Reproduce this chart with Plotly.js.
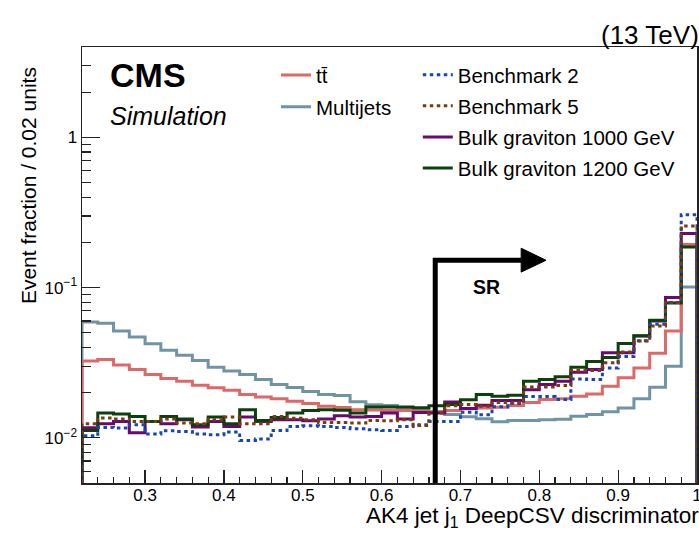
<!DOCTYPE html>
<html>
<head>
<meta charset="utf-8">
<script src="https://cdn.plot.ly/plotly-3.0.1.min.js"></script>
<style>
  html, body { margin: 0; padding: 0; background: #ffffff; }
  #plot { width: 699px; height: 533px; }
</style>
</head>
<body>
<div id="plot"></div>
<script>
// Binning of the AK4 jet j1 DeepCSV discriminator (0.02 units per bin)
const binLow = 0.22;
const binWidth = 0.02;
const nBins = 39;

// Normalised event fractions per bin
const ttbar = [0.0324, 0.0332, 0.0305, 0.0285, 0.0264, 0.0248, 0.0238, 0.0224, 0.0215, 0.0207, 0.0194, 0.0187, 0.0182,
  0.0175, 0.0169, 0.0162, 0.0159, 0.0154, 0.0153, 0.0152, 0.0152, 0.0150, 0.0149, 0.0152,
  0.0156, 0.0158, 0.0160, 0.0164, 0.0172, 0.0180, 0.0182, 0.0189, 0.0196, 0.0220, 0.0251, 0.0292, 0.0365, 0.0514, 0.194];

const multijets = [0.0590, 0.0579, 0.0514, 0.0469, 0.0423, 0.0382, 0.0354, 0.0327, 0.0295, 0.0278, 0.0264, 0.0244, 0.0226,
  0.0216, 0.0203, 0.0194, 0.0191, 0.0174, 0.0166, 0.0164, 0.0159, 0.0154, 0.0149, 0.0143,
  0.0138, 0.0134, 0.0128, 0.01305, 0.01305, 0.0132, 0.0133, 0.0139, 0.0143, 0.0149, 0.0158, 0.0182, 0.0217, 0.0300, 0.1008];

const benchmark2 = [0.01031, 0.01172, 0.01161, 0.01222, 0.01059, 0.01114, 0.01102, 0.01059, 0.01047, 0.01092, 0.00959, 0.00980, 0.01119,
  0.01190, 0.01203, 0.01190, 0.01172, 0.01149, 0.01131, 0.01119, 0.01190, 0.01222, 0.01285, 0.01285,
  0.0148, 0.01425, 0.0161, 0.0169, 0.0188, 0.0188, 0.0180, 0.0246, 0.0244, 0.0292, 0.0348, 0.0442, 0.0570, 0.0796, 0.306];

const benchmark5 = [0.01241, 0.01354, 0.01334, 0.01285, 0.01285, 0.01334, 0.01254, 0.01241, 0.01319, 0.01375, 0.01241, 0.01241, 0.01388,
  0.01350, 0.01319, 0.01266, 0.01266, 0.01254, 0.01305, 0.01299, 0.01319, 0.01209, 0.01463, 0.01637,
  0.01663, 0.01624, 0.01715, 0.01715, 0.0218, 0.0218, 0.0223, 0.0281, 0.0281, 0.0316, 0.0373, 0.0441, 0.0555, 0.0796, 0.257];

const bulk1000 = [0.01166, 0.01241, 0.01285, 0.01080, 0.01285, 0.01241, 0.01319, 0.01179, 0.01285, 0.01190, 0.01375, 0.01285, 0.01319,
  0.01319, 0.01299, 0.01334, 0.01403, 0.01375, 0.01388, 0.01463, 0.01334, 0.01476, 0.01463, 0.01733,
  0.01564, 0.0165, 0.0177, 0.0177, 0.0209, 0.0226, 0.0238, 0.0273, 0.0285, 0.0369, 0.0369, 0.0476, 0.0600, 0.0860, 0.229];

const bulk1200 = [0.01119, 0.01463, 0.01440, 0.01388, 0.01285, 0.01388, 0.01334, 0.01222, 0.01375, 0.01241, 0.01539, 0.01305, 0.01367,
  0.01463, 0.01522, 0.01539, 0.01527, 0.01463, 0.01604, 0.01604, 0.01604, 0.01587, 0.01637, 0.01663,
  0.01795, 0.0194, 0.0189, 0.0192, 0.0238, 0.0244, 0.0255, 0.0295, 0.0322, 0.0343, 0.0424, 0.0478, 0.0606, 0.0791, 0.1865];

// Axis tick labels
const xTickVals = [0.3, 0.4, 0.5, 0.6, 0.7, 0.8, 0.9, 1.0];
const xTickText = ['0.3', '0.4', '0.5', '0.6', '0.7', '0.8', '0.9', '1'];
const yTickVals = [0.01, 0.1, 1];
const yTickText = ['10<sup>\u22122</sup>', '10<sup>\u22121</sup>', '1'];

// Signal-region selection on the discriminator
const srCut = 0.668;

// Axis ranges
const xRange = [0.22, 1.0];
const yMin = 0.005, yMax = 4;

const FONT = 'Liberation Sans, Arial, Helvetica, sans-serif';
const AXC = '#222222';

// Histogram outline drawn as a step line: rises from below the frame at the
// first edge, follows each bin, and drops again at the last edge.
function histTrace(name, vals, color, dash, legend, rank) {
  const floor = yMin / 5;
  const x = [binLow], y = [floor];
  for (let i = 0; i < nBins; i++) {
    x.push(binLow + i * binWidth);
    y.push(vals[i]);
  }
  x.push(binLow + nBins * binWidth); y.push(vals[nBins - 1]);
  x.push(binLow + nBins * binWidth); y.push(floor);
  return {
    type: 'scatter', mode: 'lines', name: name, x: x, y: y,
    line: { shape: 'hv', color: color, width: 3, dash: dash },
    legend: legend, legendrank: rank, legendgroup: name,
    hoverinfo: 'skip'
  };
}

const traces = [
  histTrace('Multijets', multijets, '#7093a6', 'solid', 'legend', 2),
  histTrace('tt\u0304', ttbar, '#dc6868', 'solid', 'legend', 1),
  histTrace('Bulk graviton 1000 GeV', bulk1000, '#6a0a6e', 'solid', 'legend2', 5),
  histTrace('Bulk graviton 1200 GeV', bulk1200, '#0c410e', 'solid', 'legend2', 6),
  histTrace('Benchmark 2', benchmark2, '#1647b3', '3.5px,3.5px', 'legend2', 3),
  histTrace('Benchmark 5', benchmark5, '#7a3d10', '3.5px,3.5px', 'legend2', 4)
];

// Minor tick positions on the logarithmic axis
const yMinor = [];
[0.001, 0.01, 0.1, 1].forEach(d => {
  for (let k = 2; k <= 9; k++) {
    const v = k * d;
    if (v > yMin && v < yMax) yMinor.push(v);
  }
});

const srTop = 0.152;
const arrowEnd = 0.777, arrowTip = 0.8085;

const legendFont = { family: FONT, size: 20.5, color: '#000000' };

const layout = {
  width: 699, height: 533,
  margin: { l: 82, r: 2, t: 47, b: 50, pad: 0 },
  paper_bgcolor: '#ffffff', plot_bgcolor: '#ffffff',
  font: { family: FONT, color: '#000000' },
  showlegend: true,
  legend: {
    x: 0.3154, y: 0.981, xanchor: 'left', yanchor: 'top',
    bgcolor: 'rgba(0,0,0,0)', borderwidth: 0, font: legendFont,
    traceorder: 'grouped', tracegroupgap: 2, itemwidth: 30
  },
  legend2: {
    x: 0.546, y: 0.982, xanchor: 'left', yanchor: 'top',
    bgcolor: 'rgba(0,0,0,0)', borderwidth: 0, font: legendFont,
    traceorder: 'grouped', tracegroupgap: 1.5, itemwidth: 30
  },
  xaxis: {
    range: xRange, showgrid: false, zeroline: false,
    showline: true, linecolor: AXC, linewidth: 1.5, mirror: true,
    ticks: 'inside', ticklen: 13, tickwidth: 1.2, tickcolor: AXC,
    tickmode: 'array', tickvals: xTickVals, ticktext: xTickText,
    ticklabeloverflow: 'allow', ticklabelstandoff: -4,
    minor: { ticks: 'inside', ticklen: 6.5, tickwidth: 1.2, tickcolor: AXC, tick0: 0, dtick: 0.02 },
    tickfont: { family: FONT, size: 17, color: '#000000' }
  },
  yaxis: {
    type: 'log', range: [Math.log10(yMin), Math.log10(yMax)],
    showgrid: false, zeroline: false,
    showline: true, linecolor: AXC, linewidth: 1.5, mirror: true,
    ticks: 'inside', ticklen: 18, tickwidth: 1.2, tickcolor: AXC,
    tickmode: 'array', tickvals: yTickVals, ticktext: yTickText,
    minor: { ticks: 'inside', ticklen: 9, tickwidth: 1.2, tickcolor: AXC, tickmode: 'array', tickvals: yMinor },
    tickfont: { family: FONT, size: 17, color: '#000000' }
  },
  shapes: [
    // signal-region boundary with arrow
    { type: 'path', xref: 'x', yref: 'y',
      path: `M ${srCut},${yMin} L ${srCut},${srTop} L ${arrowEnd},${srTop}`,
      line: { color: '#000000', width: 5 }, fillcolor: 'rgba(0,0,0,0)' },
    { type: 'path', xref: 'x', yref: 'y',
      path: `M ${arrowEnd},0.183 L ${arrowTip},${srTop} L ${arrowEnd},0.1268 Z`,
      line: { color: '#000000', width: 1 }, fillcolor: '#000000' }
  ],
  annotations: [
    { text: '<b>CMS</b>', xref: 'paper', yref: 'paper', x: 0.042, y: 0.935,
      xanchor: 'left', yanchor: 'middle', showarrow: false,
      font: { family: FONT, size: 34, color: '#000000' } },
    { text: '<i>Simulation</i>', xref: 'paper', yref: 'paper', x: 0.042, y: 0.842,
      xanchor: 'left', yanchor: 'middle', showarrow: false,
      font: { family: FONT, size: 25, color: '#000000' } },
    { text: '(13 TeV)', xref: 'paper', yref: 'paper', x: 1.006, y: 1.028,
      xanchor: 'right', yanchor: 'middle', showarrow: false,
      font: { family: FONT, size: 26, color: '#000000' } },
    { text: '<b>SR</b>', xref: 'paper', yref: 'paper', x: 0.657, y: 0.4495,
      xanchor: 'center', yanchor: 'middle', showarrow: false,
      font: { family: FONT, size: 19.5, color: '#000000' } },
    { text: 'AK4 jet j<sub>1</sub> DeepCSV discriminator', xref: 'paper', yref: 'paper',
      x: 1.005, y: -0.079, xanchor: 'right', yanchor: 'middle', showarrow: false,
      borderpad: 0, font: { family: FONT, size: 22.5, color: '#000000' } },
    { text: 'Event fraction / 0.02 units', xref: 'paper', yref: 'paper',
      x: -0.088, y: 0.683, xanchor: 'center', yanchor: 'middle', showarrow: false,
      textangle: -90, font: { family: FONT, size: 21, color: '#000000' } }
  ]
};

Plotly.newPlot('plot', traces, layout, { displayModeBar: false, staticPlot: true });
</script>
</body>
</html>
